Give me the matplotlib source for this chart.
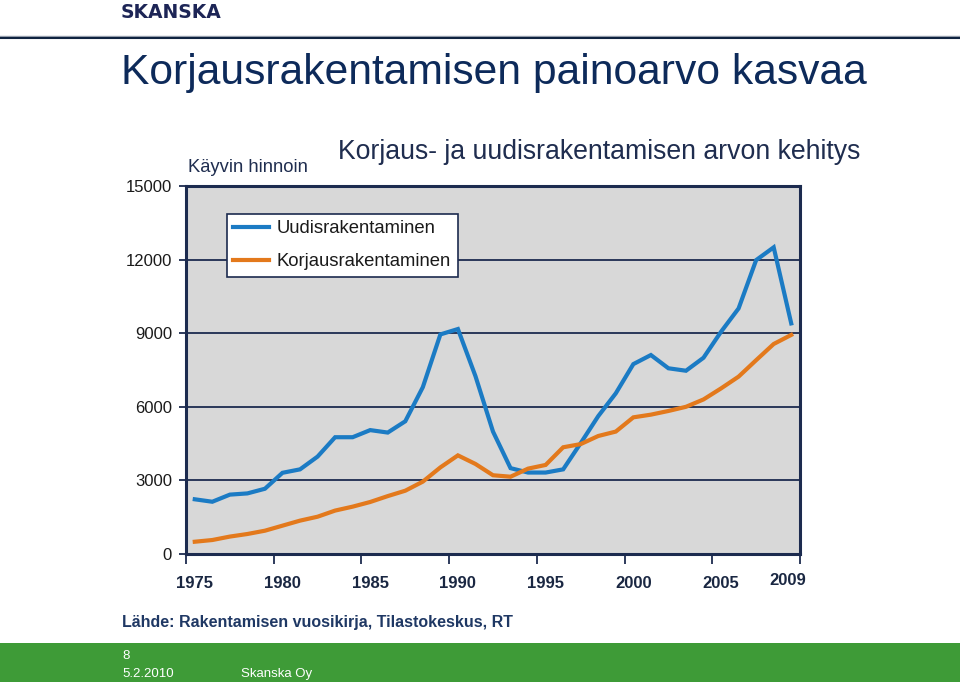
import matplotlib
matplotlib.use("Agg")
import matplotlib.pyplot as plt
from matplotlib.lines import Line2D
from matplotlib.patches import Rectangle

plt.rcParams['font.family'] = ['Liberation Sans', 'DejaVu Sans']

years = list(range(1975, 2010))
uudis = [2230, 2130, 2420, 2470, 2660, 3310, 3450, 3970, 4760, 4760,
         5050, 4950, 5410, 6800, 8950, 9170, 7250, 4990, 3500, 3320,
         3320, 3450, 4520, 5620, 6550, 7740, 8110, 7570, 7470, 8000,
         9060, 10010, 11980, 12500, 9400]
korjaus = [500, 570, 710, 815, 950, 1155, 1360, 1520, 1770, 1930,
           2120, 2360, 2580, 2950, 3530, 4020, 3670, 3210, 3150, 3480,
           3630, 4350, 4480, 4810, 4990, 5570, 5680, 5830, 6000, 6300,
           6750, 7230, 7900, 8560, 8930]
series_names = ["Uudisrakentaminen", "Korjausrakentaminen"]
yticks = [0, 3000, 6000, 9000, 12000, 15000]
xlabel_years = [1975, 1980, 1985, 1990, 1995, 2000, 2005]

navy = "#1c2b4f"
blue = "#1b7bc4"
orange = "#e3791c"

fig = plt.figure(figsize=(9.6, 6.82), dpi=100)

def fy(ypix):
    return 1 - ypix / 682.0

def fx(xpix):
    return xpix / 960.0

# header
fig.text(fx(121), fy(12), "SKANSKA", fontsize=13.5, fontweight='bold', color="#1d2556",
         va='center', ha='left', family=['DejaVu Sans'])
fig.add_artist(Line2D([0, 1], [fy(36), fy(36)], color="#9aa3b0", lw=1.0))
fig.add_artist(Line2D([0, 1], [fy(37.5), fy(37.5)], color="#0f2340", lw=1.5))
fig.text(fx(121), fy(73), "Korjausrakentamisen painoarvo kasvaa", fontsize=30.7,
         color="#0d2a5a", va='center', ha='left')

# footer
fig.add_artist(Rectangle((0, 0), 1, fy(643), transform=fig.transFigure,
                         facecolor="#3e9b37", edgecolor='none'))
fig.text(fx(122), fy(656), "8", fontsize=9.5, color='white', va='center', ha='left')
fig.text(fx(122), fy(674), "5.2.2010", fontsize=9.5, color='white', va='center', ha='left')
fig.text(fx(241), fy(674), "Skanska Oy", fontsize=9.5, color='white', va='center', ha='left')
fig.text(fx(122), fy(623), "Lähde: Rakentamisen vuosikirja, Tilastokeskus, RT", fontsize=11.5,
         fontweight='bold', color="#1f3864", va='center', ha='left')

# chart titles
fig.text(fx(188), fy(167), "Käyvin hinnoin", fontsize=13.2, color="#1f2d4f", va='center', ha='left')
fig.text(fx(338), fy(152), "Korjaus- ja uudisrakentamisen arvon kehitys", fontsize=19.2,
         color="#1f2d4f", va='center', ha='left')

ax = fig.add_axes([fx(186), fy(554), fx(800) - fx(186), fy(186) - fy(554)])
ax.set_facecolor("#d8d8d8")
n = len(years)
xs = [i + 0.5 for i in range(n)]
ax.plot(xs, uudis, color=blue, lw=3, label=series_names[0], solid_joinstyle='miter')
ax.plot(xs, korjaus, color=orange, lw=3, label=series_names[1], solid_joinstyle='miter')
ax.set_xlim(0, n)
ax.set_ylim(0, 15000)
ax.set_yticks(yticks)
ax.set_yticklabels([str(v) for v in yticks], fontsize=12, color="#1a1a1a")
ax.yaxis.grid(True, color=navy, lw=1.3)
ax.set_axisbelow(True)
ax.tick_params(axis='y', direction='out', length=5, width=1.3, color=navy, pad=5)

major = list(range(0, n + 1, 5)) + [n]
ax.set_xticks(sorted(set(major)))
ax.set_xticklabels([])
ax.tick_params(axis='x', direction='out', length=7, width=1.3, color=navy)
for yr in xlabel_years:
    i = years.index(yr)
    ax.text(i + 0.5, -0.079, str(yr), transform=ax.get_xaxis_transform(),
            ha='center', va='center', fontsize=12, fontweight='bold', color="#1a2742")
ax.text(years.index(2009) + 0.3, -0.071, "2009", transform=ax.get_xaxis_transform(),
        ha='center', va='center', fontsize=12, fontweight='bold', color="#1a2742")

for s in ax.spines.values():
    s.set_color(navy)
    s.set_linewidth(2.2)

leg = ax.legend(loc='upper left', bbox_to_anchor=((227 - 186) / 614, 1 - (214 - 186) / 368),
                frameon=True, fancybox=False, handlelength=1.9,
                handletextpad=0.45, borderpad=0.35, labelspacing=0.85, borderaxespad=0,
                prop={'size': 13.3})
leg.get_frame().set_edgecolor(navy)
leg.get_frame().set_linewidth(1.2)
leg.get_frame().set_facecolor('white')
leg.get_frame().set_alpha(1)
for t in leg.get_texts():
    t.set_color("#1a1a1a")

fig.savefig("out.png", dpi=100)
